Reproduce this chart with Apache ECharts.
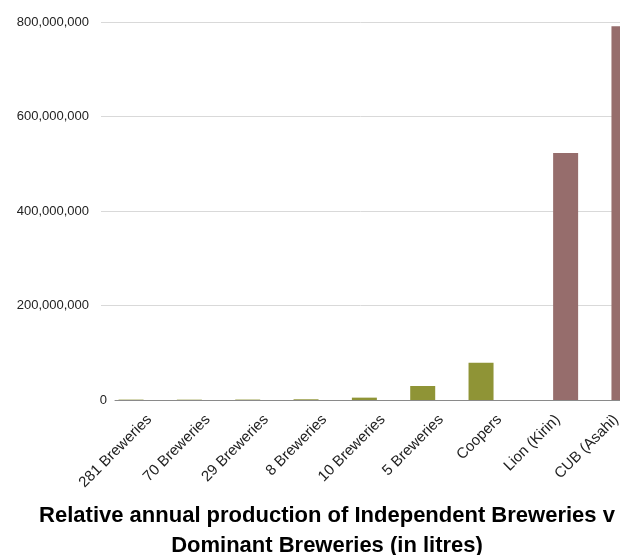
<!DOCTYPE html>
<html>
<head>
<meta charset="utf-8">
<script src="https://cdn.jsdelivr.net/npm/echarts@6/dist/echarts.min.js"></script>
<style>
  html, body { margin: 0; padding: 0; background: #fff; }
  #chart { width: 620px; height: 555px; }
</style>
</head>
<body>
<div id="chart"></div>
<script>
// categories along the x axis
const categories = ["281 Breweries", "70 Breweries", "29 Breweries", "8 Breweries",
  "10 Breweries", "5 Breweries", "Coopers", "Lion (Kirin)", "CUB (Asahi)"];
// annual production in litres
const independent = [800000, 700000, 900000, 1500000, 5000000, 29600000, 79000000, "-", "-"];
const dominant = ["-", "-", "-", "-", "-", "-", "-", 523000000, 791000000];
const yTicks = [0, 200000000, 400000000, 600000000, 800000000];

const chartTitle = "Relative annual production of Independent Breweries v\nDominant Breweries (in litres)";

const font = "Liberation Sans, Arial, sans-serif";

const chart = echarts.init(document.getElementById("chart"));

function fmt(v) {
  return v.toLocaleString("en-US");
}

chart.setOption({
  animation: false,
  title: {
    text: chartTitle,
    left: 327,
    top: 501,
    padding: 0,
    textAlign: "center",
    textStyle: { fontFamily: font, fontSize: 22, lineHeight: 30, fontWeight: "bold", color: "#000", align: "center" }
  },
  grid: [
    // bars
    { left: 115, width: 525, top: 22, height: 378, outerBoundsMode: "none", containLabel: false },
    // gridlines only
    { left: 101, right: 0, top: 22, height: 378, outerBoundsMode: "none", containLabel: false }
  ],
  xAxis: [
    {
      type: "category",
      gridIndex: 0,
      data: categories,
      axisLine: { lineStyle: { color: "#8a8a8a", width: 1 } },
      axisTick: { show: false },
      axisLabel: {
        rotate: 45,
        interval: 0,
        margin: 12,
        verticalAlign: "top",
        fontFamily: font,
        fontSize: 15,
        color: "#222"
      }
    },
    { type: "value", gridIndex: 1, show: false }
  ],
  yAxis: [
    {
      type: "value",
      gridIndex: 0,
      min: yTicks[0],
      max: yTicks[yTicks.length - 1],
      interval: 200000000,
      splitLine: { show: false },
      axisLine: { show: false },
      axisTick: { show: false },
      axisLabel: {
        margin: 8,
        fontFamily: font,
        fontSize: 13,
        color: "#222",
        formatter: v => (v === 0 ? "0" : "{a|" + fmt(v) + "}"),
        rich: {
          a: { fontFamily: font, fontSize: 13, color: "#222", padding: [0, 18, 0, 0] }
        }
      }
    },
    {
      type: "value",
      gridIndex: 1,
      min: yTicks[0],
      max: yTicks[yTicks.length - 1],
      interval: 200000000,
      axisLine: { show: false },
      axisTick: { show: false },
      axisLabel: { show: false },
      splitLine: { show: true, showMinLine: false, lineStyle: { color: "#d9d9d9", width: 1 } }
    }
  ],
  series: [
    {
      name: "Independent",
      type: "bar",
      xAxisIndex: 0,
      yAxisIndex: 0,
      data: independent,
      barWidth: 25,
      barGap: "5%",
      z: 3,
      itemStyle: { color: "#8f9436" }
    },
    {
      name: "Dominant",
      type: "bar",
      xAxisIndex: 0,
      yAxisIndex: 0,
      data: dominant,
      barWidth: 25,
      barGap: "5%",
      z: 3,
      itemStyle: { color: "#966d6c" }
    }
  ]
});
</script>
</body>
</html>
